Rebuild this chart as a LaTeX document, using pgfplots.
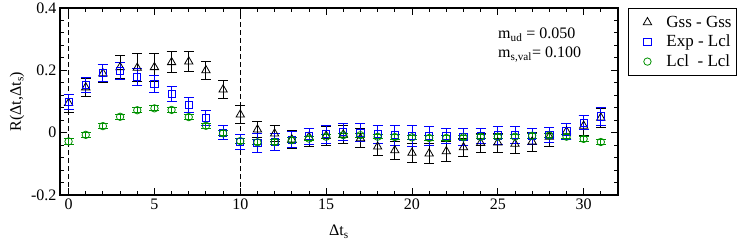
\documentclass[border=0pt]{standalone}
\usepackage{pgfplots}
\pgfplotsset{compat=1.18}
\usepackage{pgfplotstable}
\usepackage{fontspec}
\setmainfont{Liberation Serif}
\definecolor{ggreen}{RGB}{0,145,0}
\definecolor{gblue}{RGB}{0,0,255}
\pgfplotsset{mylegimg/.style={legend image code/.code={\path[draw=none,fill=none] (0pt,-4pt) (33pt,4pt);\draw[##1] plot coordinates {(16pt,0pt)};}}}

\pgfplotstableread{
x y e
0 0.095 0.029
1 0.145 0.029
2 0.190 0.028
3 0.210 0.037
4 0.208 0.045
5 0.210 0.045
6 0.226 0.034
7 0.228 0.032
8 0.200 0.030
9 0.138 0.029
10 0.058 0.028
11 0.010 0.025
12 -0.003 0.025
13 -0.022 0.028
14 -0.014 0.029
15 -0.010 0.030
16 -0.006 0.030
17 -0.018 0.030
18 -0.045 0.027
19 -0.057 0.028
20 -0.065 0.030
21 -0.067 0.032
22 -0.060 0.032
23 -0.047 0.030
24 -0.033 0.031
25 -0.032 0.031
26 -0.036 0.031
27 -0.029 0.031
28 -0.013 0.030
29 0.004 0.027
30 0.022 0.032
31 0.048 0.030
}\gss

\pgfplotstableread{
x y e
0 0.099 0.025
1 0.153 0.025
2 0.191 0.027
3 0.198 0.027
4 0.180 0.027
5 0.157 0.028
6 0.124 0.025
7 0.089 0.025
8 0.048 0.024
9 0.000 0.023
10 -0.029 0.024
11 -0.032 0.030
12 -0.030 0.027
13 -0.022 0.025
14 -0.011 0.026
15 -0.005 0.028
16 0.002 0.027
17 0.000 0.028
18 -0.005 0.029
19 -0.008 0.032
20 -0.010 0.034
21 -0.011 0.031
22 -0.011 0.025
23 -0.014 0.027
24 -0.011 0.025
25 -0.009 0.028
26 -0.008 0.027
27 -0.011 0.026
28 -0.007 0.025
29 0.004 0.027
30 0.032 0.022
31 0.052 0.028
}\exp

\pgfplotstableread{
x y e
0 -0.028 0.010
1 -0.007 0.008
2 0.021 0.008
3 0.051 0.008
4 0.072 0.008
5 0.078 0.008
6 0.073 0.008
7 0.050 0.008
8 0.022 0.008
9 -0.002 0.008
10 -0.027 0.008
11 -0.031 0.008
12 -0.030 0.008
13 -0.024 0.008
14 -0.019 0.007
15 -0.013 0.007
16 -0.008 0.007
17 -0.008 0.007
18 -0.013 0.007
19 -0.014 0.007
20 -0.015 0.007
21 -0.017 0.007
22 -0.017 0.007
23 -0.015 0.007
24 -0.013 0.007
25 -0.013 0.007
26 -0.013 0.007
27 -0.010 0.007
28 -0.009 0.007
29 -0.013 0.007
30 -0.020 0.007
31 -0.030 0.007
}\lcl

\begin{document}
\begin{tikzpicture}
\path[use as bounding box] (-60pt,-46pt) rectangle (687pt,195pt);
\begin{axis}[
  scale only axis,
  width=558pt, height=187pt,
  xmin=-0.5, xmax=32,
  ymin=-0.2, ymax=0.4,
  xtick={0,5,10,15,20,25,30},
  ytick={-0.2,0,0.2,0.4},
  yticklabels={-0.2,0,0.2,0.4},
  minor xtick={0,1,...,32},
  minor ytick={-0.2,-0.16,-0.12,-0.08,-0.04,0,0.04,0.08,0.12,0.16,0.2,0.24,0.28,0.32,0.36,0.4},
  major tick length=7pt,
  minor tick length=4pt,
  tick align=inside,
  tick pos=both,
  axis line style={line width=1.2pt},
  every tick/.style={black, line width=0.9pt},
  font=\fontsize{16}{18}\selectfont,
  ticklabel style={font=\fontsize{16}{18}\selectfont},
  /pgf/number format/assume math mode=true,
  xlabel={Δt\textsubscript{s}},
  xlabel style={yshift=-9pt},
  ylabel={R(Δt,Δt\textsubscript{s})},
  legend style={at={(rel axis cs:1.018,1)}, anchor=north west, draw=black, line width=0.8pt,
    font=\fontsize{17}{19}\selectfont, cells={anchor=west}, row sep=2.5pt,
    inner xsep=3pt, inner ysep=5.5pt},
  legend cell align=left,
  clip=false,
]
\addplot[black, line width=0.8pt, dash pattern=on 5pt off 3pt, forget plot] coordinates {(0,-0.2) (0,0.4)};
\addplot[black, line width=0.8pt, dash pattern=on 5pt off 3pt, forget plot] coordinates {(10,-0.2) (10,0.4)};

\addplot[only marks, mylegimg, black, mark=triangle, mark size=4.8pt, mark options={line width=0.8pt, fill=none},
  error bars/.cd, y dir=both, y explicit, error bar style={line width=0.9pt},
  error mark options={rotate=90, mark size=5pt, line width=0.9pt}]
  table[x=x, y=y, y error=e] {\gss};
\addlegendentry{Gss - Gss}

\addplot[only marks, mylegimg, gblue, mark=square, mark size=3.6pt, mark options={line width=0.8pt, fill=none},
  error bars/.cd, y dir=both, y explicit, error bar style={line width=0.9pt},
  error mark options={rotate=90, mark size=5pt, line width=0.9pt}]
  table[x=x, y=y, y error=e] {\exp};
\addlegendentry{Exp - Lcl}

\addplot[only marks, mylegimg, ggreen, mark=o, mark size=3.7pt, mark options={line width=0.8pt, fill=none},
  error bars/.cd, y dir=both, y explicit, error bar style={line width=0.9pt},
  error mark options={rotate=90, mark size=5pt, line width=0.9pt}]
  table[x=x, y=y, y error=e] {\lcl};
\addlegendentry{Lcl\ \ - Lcl}

\node[anchor=north west, align=left, inner sep=0pt, font=\fontsize{16}{19}\selectfont]
  at (rel axis cs:0.785,0.893) {m\textsubscript{ud} = 0.050\\m\textsubscript{s,val}= 0.100};
\end{axis}
\end{tikzpicture}
\end{document}
